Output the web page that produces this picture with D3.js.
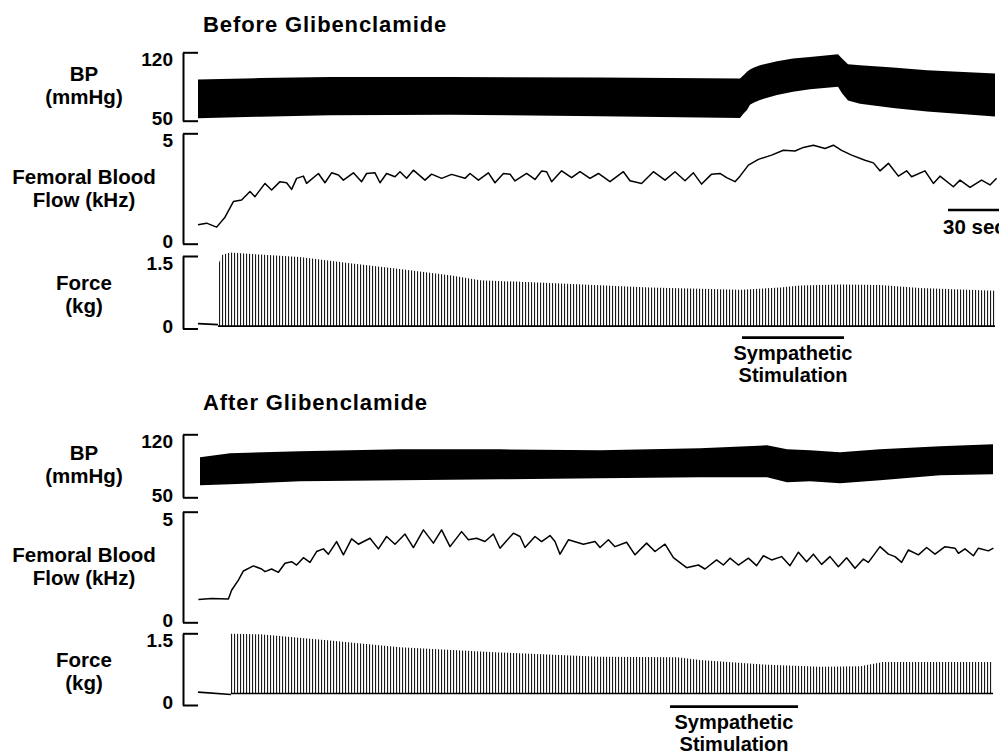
<!DOCTYPE html>
<html>
<head>
<meta charset="utf-8">
<script src="https://d3js.org/d3.v7.min.js"></script>
<style>
  html, body { margin: 0; padding: 0; background: #fff; }
  svg text { font-family: "Liberation Sans", Arial, Helvetica, sans-serif; font-weight: bold; fill: #000; }
</style>
</head>
<body>
<div id="chart"></div>
<script>
"use strict"

// ---- data (time in s, BP in mmHg, flow in kHz, force in kg) ----

// [time, systolic edge, diastolic edge] of the pressure band
const beforeBP = [
    [0, 92.1, 52.6], [31, 93.6, 54.1], [66, 94.6, 55.6], [126, 94.6, 56.1],
    [201, 94.1, 54.6], [271, 93.3, 52.8], [273, 97, 57.8], [274.5, 100, 61],
    [276, 102.5, 66.2], [278, 104.5, 68.5], [281, 106.8, 71.3], [289.5, 110.9, 76.4],
    [297.5, 113.6, 79.7], [306, 115.2, 82.2], [320, 118, 84.8], [322, 113.6, 78.1],
    [325, 107.8, 70.6], [331, 106.8, 67.3], [347.5, 104.5, 62.9], [364.5, 101.7, 59.5],
    [398.5, 98.4, 54.4]
]
const afterBP = [
    [1, 94.4, 63.3], [16, 98.9, 64.4], [51, 101.1, 67.8], [101, 103.3, 68.9],
    [151, 103.3, 70], [201, 102.2, 71.1], [251, 104.4, 72.2], [284.5, 107.8, 72.2],
    [294.5, 103.3, 66.7], [306, 102.2, 67.8], [321, 100, 65.6], [341, 103.3, 68.9],
    [371, 106.7, 74.4], [397.5, 108.9, 75.6]
]

const beforeFlow = [
    [0, 0.86], [4.3, 0.93], [9.3, 0.75], [13.5, 1.2], [17.7, 1.91], [21.8, 1.98],
    [26, 2.36], [28.5, 2.13], [33.5, 2.73], [36.8, 2.43], [41, 2.81], [44.3, 2.76],
    [46.8, 2.46], [49.3, 2.96], [52.7, 3.06], [54.3, 2.73], [60.2, 3.18], [63.5, 2.76],
    [66.8, 3.21], [70.2, 3.11], [72.7, 2.88], [77.7, 3.21], [81.8, 2.81], [84.3, 3.18],
    [88.5, 3.21], [91, 2.76], [94.3, 3.18], [98.5, 3.03], [101, 3.26], [104.3, 2.96],
    [107.7, 3.33], [113.5, 2.88], [116.8, 3.15], [121.8, 2.96], [126.8, 3.14], [133.5, 2.96],
    [136, 3.18], [140.2, 2.88], [145.2, 3.21], [148.5, 2.76], [152.7, 3.18], [156, 3.15],
    [158.5, 2.84], [164.3, 3.18], [168.5, 2.91], [171.8, 3.29], [174.3, 3.26], [176.8, 2.81],
    [181.8, 3.3], [186.8, 2.99], [191, 3.26], [196, 2.96], [200.2, 3.18], [206, 2.81],
    [212.7, 3.26], [216, 2.85], [221.8, 2.73], [227.7, 3.26], [233.5, 2.88], [238.5, 3.26],
    [243.5, 2.85], [247.7, 3.21], [251.8, 2.7], [256.8, 3.15], [261, 3.18], [264.3, 2.99],
    [268.5, 2.81], [271, 3.06], [275.2, 3.56], [280.2, 3.82], [286.8, 4.01], [292.7, 4.23],
    [298.5, 4.2], [302.7, 4.36], [307.7, 4.46], [313.5, 4.31], [317.7, 4.46], [321.8, 4.23],
    [326.8, 4.01], [333.5, 3.78], [337.7, 3.66], [341, 3.3], [345.2, 3.64], [350.2, 3.06],
    [354.3, 3.3], [356.8, 3.03], [363.5, 3.3], [367.7, 2.73], [371, 3.06], [377.7, 2.58],
    [381, 2.88], [386, 2.55], [391.8, 2.88], [396, 2.66], [399.3, 2.96]
]
const afterFlow = [
    [0.2, 1.03], [6.8, 1.08], [15.2, 1.05], [16.8, 1.45], [20.2, 1.91], [22.7, 2.32],
    [27.7, 2.55], [31.8, 2.41], [33.5, 2.29], [36.8, 2.41], [40.2, 2.26], [43.5, 2.67],
    [46.8, 2.74], [49.3, 2.59], [52.7, 2.92], [56, 2.71], [59.3, 3.2], [62.7, 3.32],
    [65.2, 3.08], [69.3, 3.65], [72.7, 3.05], [76.8, 3.77], [80.2, 3.53], [86, 3.8],
    [90.2, 3.32], [94.3, 3.88], [98.5, 3.53], [103.5, 3.99], [107.7, 3.38], [112.7, 4.18],
    [117.7, 3.58], [121.8, 4.18], [126, 3.42], [131.8, 4.1], [135.2, 3.73], [139.3, 3.8],
    [143.5, 3.65], [147.7, 3.99], [151, 3.35], [157.7, 4.03], [161, 3.88], [163.5, 3.38],
    [168.5, 3.88], [171.8, 3.65], [176, 3.92], [178.5, 3.65], [181, 3.08], [185.2, 3.73],
    [192.7, 3.53], [198.5, 3.65], [201, 3.38], [205.2, 3.73], [208.5, 3.42], [214.3, 3.62],
    [218.5, 3.05], [224.3, 3.58], [228.5, 3.2], [233.5, 3.53], [237.7, 2.92], [244.3, 2.47],
    [250.2, 2.59], [253.5, 2.41], [259.3, 2.82], [262.7, 2.59], [266, 2.9], [270.2, 2.59],
    [275.2, 2.9], [279.3, 2.56], [282.7, 3.01], [286.8, 2.82], [291.8, 2.97], [296, 2.56],
    [300.2, 3.17], [304.3, 2.74], [307.7, 3.08], [311.8, 2.62], [316, 2.97], [320.2, 2.51],
    [324.3, 2.92], [328.5, 2.44], [332.7, 2.86], [335.2, 2.71], [341, 3.42], [345.2, 3.08],
    [348.5, 2.97], [351.8, 2.71], [355.2, 3.27], [360.2, 3.05], [364.3, 3.38], [368.5, 3.08],
    [373.5, 3.42], [378.5, 3.35], [380.2, 3.12], [383.5, 3.32], [387.7, 3.01], [390.2, 3.35],
    [395.2, 3.23], [397.7, 3.35]
]

// envelope of twitch peaks [time, kg]
const beforeForce = [
    [10, 1.31], [12, 1.52], [16, 1.57], [31, 1.53], [51, 1.48], [76, 1.35], [101, 1.23],
    [126, 1.1], [141, 1.0], [176, 0.94], [226, 0.85], [251, 0.82], [271, 0.8], [291, 0.85],
    [301, 0.89], [321, 0.91], [341, 0.9], [361, 0.84], [398.5, 0.78]
]
const afterForce = [
    [16.5, 1.49], [31, 1.48], [66, 1.35], [101, 1.21], [151, 1.1], [201, 1.01],
    [239.5, 1.0], [251, 0.94], [281, 0.85], [311, 0.8], [331, 0.81], [342.5, 0.9], [397.5, 0.9]
]
// resting tension before the twitches start [time, kg]
const beforeRest = [[0, 0.1], [10, 0.08]]
const afterRest = [[0, 0.27], [16.5, 0.22]]
// twitch baseline, kg
const beforeForceBase = 0.05
const afterForceBase = 0.24

// sympathetic stimulation periods [start, end] s
const beforeStim = [272, 323]
const afterStim = [236, 300]

const bpTicks = [50, 120]
const flowTicks = [0, 5]
const forceTicks = [0, 1.5]
const timeBar = 30  // s

// ---- layout ----
const width = 999, height = 756
const x = d3.scaleLinear().domain([0, 400]).range([198, 998])
const axisX = 183

const sections = [
    {
        title: "Before Glibenclamide", titleY: 32,
        bpPx: [52.3, 120.7], flowPx: [133.3, 243.7], forcePx: [256, 328.5],
        bp: beforeBP, flow: beforeFlow, force: beforeForce, rest: beforeRest,
        forceBase: beforeForceBase, stim: beforeStim, stimY: 337.7, timeBarY: 210
    },
    {
        title: "After Glibenclamide", titleY: 410,
        bpPx: [434.3, 497.3], flowPx: [511.7, 622.3], forcePx: [633.3, 705],
        bp: afterBP, flow: afterFlow, force: afterForce, rest: afterRest,
        forceBase: afterForceBase, stim: afterStim, stimY: 706.7
    }
]

const svg = d3.select("#chart").append("svg")
    .attr("width", width)
    .attr("height", height)
    .attr("viewBox", `0 0 ${width} ${height}`)

const defs = svg.append("defs")
defs.append("pattern")
    .attr("id", "twitch")
    .attr("patternUnits", "userSpaceOnUse")
    .attr("width", 3)
    .attr("height", 10)
    .append("rect")
    .attr("width", 1.1)
    .attr("height", 10)
    .attr("fill", "#1a1a1a")

function bracket(g, y, ticks) {
    const axis = d3.axisLeft(y)
        .tickValues(ticks)
        .tickSizeInner(-15)
        .tickSizeOuter(0)
        .tickPadding(10)
        .tickFormat(d3.format(""))
    const ax = g.append("g")
        .attr("transform", `translate(${axisX},0)`)
        .call(axis)
    ax.select(".domain").attr("stroke-width", 2)
    ax.selectAll(".tick line").attr("stroke-width", 2)
    ax.selectAll(".tick text")
        .style("font-size", "19px")
        .attr("dy", d => d === ticks[1] ? "0.72em" : "0.2em")
}

// multi-line centred label as one text element
function label(g, lines, cx, yBase, size, lead) {
    const t = g.append("text")
        .attr("x", cx)
        .attr("y", yBase)
        .attr("text-anchor", "middle")
        .style("font-size", size + "px")
    lines.forEach((line, i) => {
        t.append("tspan")
            .attr("x", cx)
            .attr("dy", i === 0 ? 0 : lead)
            .text(line)
    })
}

sections.forEach((s, idx) => {
    const g = svg.append("g").attr("class", "section-" + idx)

    const yBP = d3.scaleLinear().domain(bpTicks).range([s.bpPx[1], s.bpPx[0]])
    const yFlow = d3.scaleLinear().domain(flowTicks).range([s.flowPx[1], s.flowPx[0]])
    const yForce = d3.scaleLinear().domain(forceTicks).range([s.forcePx[1], s.forcePx[0]])

    g.append("text")
        .attr("x", 203)
        .attr("y", s.titleY)
        .style("font-size", "22px")
        .style("letter-spacing", "0.9px")
        .text(s.title)

    // blood pressure band
    bracket(g, yBP, bpTicks)
    label(g, ["BP", "(mmHg)"], 84, (s.bpPx[0] + s.bpPx[1]) / 2 - 6, 20.5, 23)
    g.append("path")
        .datum(s.bp)
        .attr("fill", "#000")
        .attr("d", d3.area()
            .x(d => x(d[0]))
            .y0(d => yBP(d[2]))
            .y1(d => yBP(d[1])))

    // femoral blood flow
    bracket(g, yFlow, flowTicks)
    label(g, ["Femoral Blood", "Flow (kHz)"], 84, (s.flowPx[0] + s.flowPx[1]) / 2 - 5, 20.5, 23)
    g.append("path")
        .datum(s.flow)
        .attr("fill", "none")
        .attr("stroke", "#000")
        .attr("stroke-width", 1.5)
        .attr("stroke-linejoin", "round")
        .attr("d", d3.line().x(d => x(d[0])).y(d => yFlow(d[1])))

    // force twitches
    bracket(g, yForce, forceTicks)
    label(g, ["Force", "(kg)"], 84, (s.forcePx[0] + s.forcePx[1]) / 2 - 2, 20.5, 23)
    g.append("path")
        .datum(s.force)
        .attr("fill", "url(#twitch)")
        .attr("d", d3.area()
            .x(d => x(d[0]))
            .y0(yForce(s.forceBase))
            .y1(d => yForce(d[1])))
    g.append("line")
        .attr("x1", x(s.force[0][0]))
        .attr("x2", x(s.force[s.force.length - 1][0]))
        .attr("y1", yForce(s.forceBase))
        .attr("y2", yForce(s.forceBase))
        .attr("stroke", "#000")
        .attr("stroke-width", 1.6)
    g.append("path")
        .datum(s.rest)
        .attr("fill", "none")
        .attr("stroke", "#000")
        .attr("stroke-width", 1.6)
        .attr("d", d3.line().x(d => x(d[0])).y(d => yForce(d[1])))

    // stimulation marker
    g.append("line")
        .attr("x1", x(s.stim[0]))
        .attr("x2", x(s.stim[1]))
        .attr("y1", s.stimY)
        .attr("y2", s.stimY)
        .attr("stroke", "#000")
        .attr("stroke-width", 2.7)
    label(g, ["Sympathetic", "Stimulation"], x((s.stim[0] + s.stim[1]) / 2),
        s.stimY + 22, 20, 22.5)

    // time calibration
    if (s.timeBarY) {
        const t0 = x.domain()[1] - 25
        g.append("line")
            .attr("x1", x(t0))
            .attr("x2", x(t0 + timeBar))
            .attr("y1", s.timeBarY)
            .attr("y2", s.timeBarY)
            .attr("stroke", "#000")
            .attr("stroke-width", 2.6)
        g.append("text")
            .attr("x", x(t0) - 5)
            .attr("y", s.timeBarY + 24)
            .style("font-size", "20.5px")
            .text(`${timeBar} sec`)
    }
})
</script>
</body>
</html>
